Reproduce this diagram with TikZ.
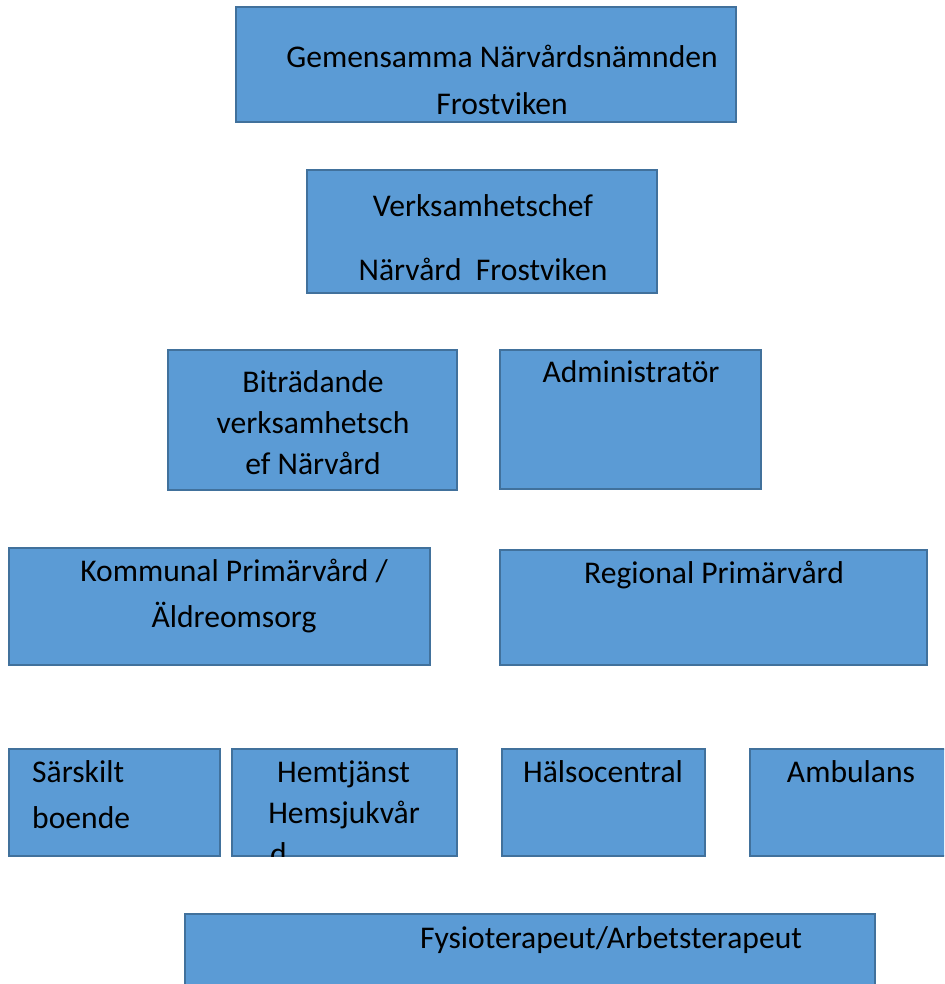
\documentclass[tikz,border=0pt]{standalone}
\usepackage{fontspec}
\setmainfont{Carlito}
\usetikzlibrary{positioning}
\definecolor{boxfill}{HTML}{5B9BD5}
\definecolor{boxline}{HTML}{41719C}
\tikzset{
    orgbox/.style={draw=boxline,fill=boxfill,line width=1.6pt,
      inner sep=0pt,outer sep=0pt},
    orgtext/.style={anchor=base,inner sep=0pt,text=black,
      font=\fontsize{31.6}{38}\selectfont},
    lefttext/.style={orgtext,anchor=base west}
}
\begin{document}
\begin{tikzpicture}[x=1pt,y=-1pt]
  \clip (0,0) rectangle (944,984);
  % boxes, top to bottom
  \node[orgbox,minimum width=500pt,minimum height=115pt] (namnd) at (486,64.5) {};
  \node[orgbox,minimum width=350pt,minimum height=123pt] (chef) at (482,231.5) {};
  \node[orgbox,minimum width=289pt,minimum height=140pt] (bitr) at (312.5,420) {};
  \node[orgbox,minimum width=261pt,minimum height=139pt] (admin) at (630.5,419.5) {};
  \node[orgbox,minimum width=421pt,minimum height=117pt] (kommunal) at (219.5,606.5) {};
  \node[orgbox,minimum width=427pt,minimum height=115pt] (regional) at (713.5,607.5) {};
  \node[orgbox,minimum width=211pt,minimum height=107pt] (sarskilt) at (114.5,802.5) {};
  \node[orgbox,minimum width=225pt,minimum height=107pt] (hemtj) at (344.5,802.5) {};
  \node[orgbox,minimum width=203pt,minimum height=107pt] (halso) at (603.5,802.5) {};
  \node[orgbox,minimum width=210pt,minimum height=107pt] (ambul) at (855,802.5) {};
  \node[orgbox,minimum width=690pt,minimum height=86pt] (fysio) at (530,957) {};
  % labels
  \node[orgtext] (namnd1) at (502,68) {Gemensamma Närvårdsnämnden};
  \node[orgtext] (namnd2) at (502,115) {Frostviken};
  \node[orgtext] (chef1) at (483,217) {Verksamhetschef};
  \node[orgtext] (chef2) at (483,280) {Närvård\ \ Frostviken};
  \node[orgtext] (bitr1) at (313,392) {Biträdande};
  \node[orgtext] (bitr2) at (313,433) {verksamhetsch};
  \node[orgtext] (bitr3) at (313,474) {ef Närvård};
  \node[orgtext] (admin1) at (631,382) {Administratör};
  \node[orgtext] (kommunal1) at (234,581) {Kommunal Primärvård /};
  \node[orgtext] (kommunal2) at (234,627) {Äldreomsorg};
  \node[orgtext] (regional1) at (714,583) {Regional Primärvård};
  \node[lefttext] (sarskilt1) at (32,782) {Särskilt};
  \node[lefttext] (sarskilt2) at (32,828) {boende};
  \node[orgtext] (hemtj1) at (343.5,782) {Hemtjänst};
  \node[orgtext] (hemtj2) at (344,823) {Hemsjukvår};
  \begin{scope}
    \clip (hemtj.north west) rectangle (hemtj.south east);
    \node[lefttext] (hemtj3) at (270,864) {d};
  \end{scope}
  \node[orgtext] (halso1) at (603,782) {Hälsocentral};
  \node[orgtext] (ambul1) at (851,782) {Ambulans};
  \node[orgtext] (fysio1) at (611,948) {Fysioterapeut/Arbetsterapeut};
\end{tikzpicture}
\end{document}
